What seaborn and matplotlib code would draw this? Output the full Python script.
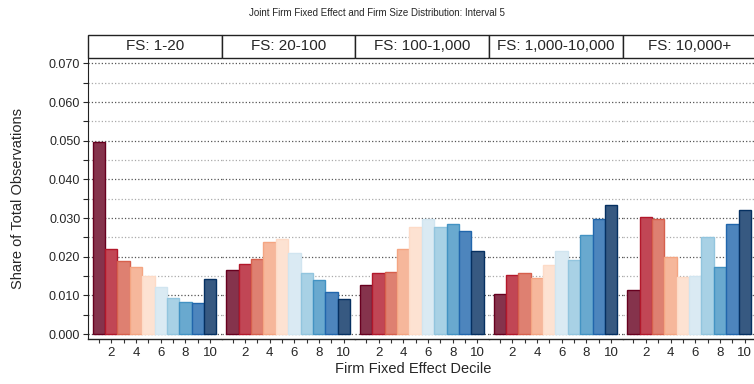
import numpy as np
import pandas as pd
import matplotlib
matplotlib.use('Agg')
import matplotlib.pyplot as plt
import matplotlib.colors as mcolors
import seaborn as sns
from matplotlib.patches import Rectangle
from matplotlib.ticker import MultipleLocator, FormatStrFormatter

# values
size_groups = ["FS: 1-20", "FS: 20-100", "FS: 100-1,000", "FS: 1,000-10,000", "FS: 10,000+"]
deciles = list(range(1, 11))
share_fs1 = [0.0497, 0.0221, 0.0188, 0.0174, 0.0150, 0.0121, 0.0092, 0.0084, 0.0080, 0.0142]
share_fs2 = [0.0166, 0.0181, 0.0194, 0.0238, 0.0245, 0.0209, 0.0158, 0.0140, 0.0109, 0.0090]
share_fs3 = [0.0126, 0.0159, 0.0161, 0.0219, 0.0278, 0.0297, 0.0277, 0.0284, 0.0267, 0.0214]
share_fs4 = [0.0104, 0.0153, 0.0159, 0.0145, 0.0178, 0.0214, 0.0192, 0.0255, 0.0298, 0.0333]
share_fs5 = [0.0113, 0.0302, 0.0298, 0.0198, 0.0147, 0.0151, 0.0250, 0.0174, 0.0285, 0.0322]
all_shares = [share_fs1, share_fs2, share_fs3, share_fs4, share_fs5]

rows = []
for grp, vals in zip(size_groups, all_shares):
    for d, v in zip(deciles, vals):
        rows.append({'group': grp, 'decile': d, 'share': v})
df = pd.DataFrame(rows)

sns.set_style('white')
plt.rcParams['font.family'] = ['Liberation Sans', 'DejaVu Sans']

# ColorBrewer RdBu, 10 classes
colors = ['#67001f', '#b2182b', '#d6604d', '#f4a582', '#fddbc7',
          '#d1e5f0', '#92c5de', '#4393c3', '#2166ac', '#053061']

fig = plt.figure(figsize=(7.54, 3.84), dpi=100)
left, right, bottom, top = 0.1167, 1.003, 0.117, 0.849
w = (right - left) / 5
axes = []
for i, grp in enumerate(size_groups):
    ax = fig.add_axes([left + i * w, bottom, w, top - bottom])
    axes.append(ax)
    sub = df[df['group'] == grp]
    sns.barplot(data=sub, x='decile', y='share', hue='decile', palette=colors,
                native_scale=True, dodge=False, width=1, legend=False,
                saturation=1, linewidth=1, ax=ax)
    for patch, c in zip(ax.patches, colors):
        rgb = np.array(mcolors.to_rgb(c))
        patch.set_edgecolor(rgb)
        patch.set_facecolor(rgb * 0.8 + 0.2)

    ax.set_xlim(0.12, 10.93)
    ax.set_ylim(-0.0013, 0.0714)
    ax.yaxis.set_major_locator(MultipleLocator(0.01))
    ax.yaxis.set_minor_locator(MultipleLocator(0.005))
    ax.yaxis.set_major_formatter(FormatStrFormatter('%.3f'))
    ax.grid(True, which='major', axis='y', linestyle=':', color='#555555', linewidth=0.9)
    ax.grid(True, which='minor', axis='y', linestyle=':', color='#aaaaaa', linewidth=0.9)
    ax.set_axisbelow(True)
    ax.set_xticks([2, 4, 6, 8, 10])
    ax.set_xticks([1, 3, 5, 7, 9], minor=True)
    ax.tick_params(axis='x', which='both', direction='out', length=3, width=0.8,
                   bottom=True, labelsize=9.5, pad=2.5, color='#333333')
    for s in ['top', 'right', 'left']:
        ax.spines[s].set_visible(False)
    ax.spines['bottom'].set_color('#222222')
    ax.spines['bottom'].set_linewidth(1)
    ax.set_xlabel('')
    ax.set_ylabel('')
    if i == 0:
        ax.spines['left'].set_visible(True)
        ax.spines['left'].set_color('#222222')
        ax.tick_params(axis='y', which='both', direction='out', left=True,
                       length=3.5, width=0.8, labelsize=9, pad=2)
    else:
        ax.tick_params(axis='y', which='both', left=False, labelleft=False)

    # facet header box
    hh = 0.082
    ax.add_patch(Rectangle((0, 1), 1, hh, transform=ax.transAxes, clip_on=False,
                           facecolor='white', edgecolor='#222222', linewidth=1))
    ax.text(0.5, 1 + hh / 2, grp, transform=ax.transAxes, ha='center', va='center',
            fontsize=11)

fig.text(0.024, (bottom + top) / 2, 'Share of Total Observations', rotation=90,
         ha='center', va='center', fontsize=10.5)
fig.text(0.548, 0.04, 'Firm Fixed Effect Decile',
         ha='center', va='center', fontsize=10.5)
fig.text(0.5, 0.965, 'Joint Firm Fixed Effect and Firm Size Distribution: Interval 5',
         ha='center', va='center', fontsize=7,
         family=['Liberation Sans Narrow', 'Liberation Sans', 'DejaVu Sans'])

fig.savefig('out.png', dpi=100)
plt.close(fig)
